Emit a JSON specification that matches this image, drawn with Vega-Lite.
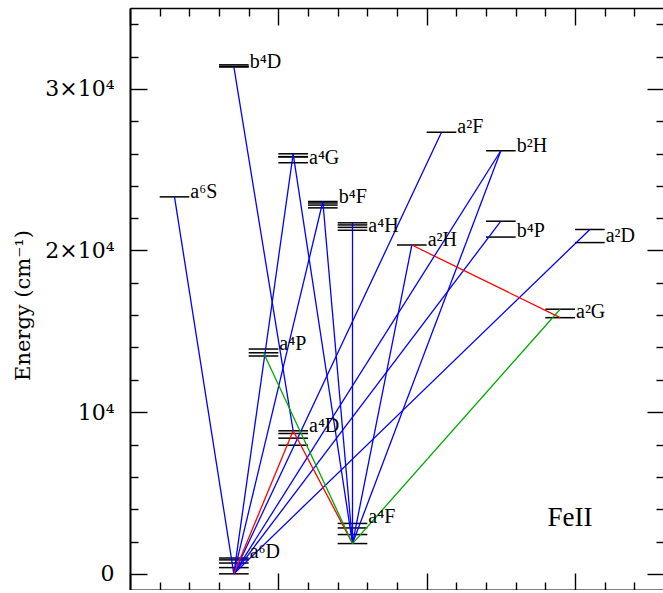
{
  "$schema": "https://vega.github.io/schema/vega-lite/v6.json",
  "width": 534,
  "height": 582,
  "autosize": {"type": "none"},
  "padding": {"left": 130, "top": 8, "right": 0, "bottom": 0},
  "background": "white",
  "config": {
    "view": {"stroke": null},
    "axis": {
      "grid": false,
      "domainColor": "black",
      "domainWidth": 2,
      "tickColor": "black",
      "tickWidth": 1.4,
      "labelFont": "DejaVu Serif",
      "labelFontSize": 22,
      "labelColor": "black",
      "labelOverlap": false,
      "labelFlush": false,
      "titleFont": "DejaVu Serif",
      "titleFontSize": 21,
      "titleFontWeight": "normal",
      "titleColor": "black"
    }
  },
  "datasets": {
    "levels": [
      {"term": "a6D", "x0": 3, "x1": 4, "energy": 0},
      {"term": "a6D", "x0": 3, "x1": 4, "energy": 384.79},
      {"term": "a6D", "x0": 3, "x1": 4, "energy": 667.68},
      {"term": "a6D", "x0": 3, "x1": 4, "energy": 862.61},
      {"term": "a6D", "x0": 3, "x1": 4, "energy": 977.05},
      {"term": "a4F", "x0": 7, "x1": 8, "energy": 1872.6},
      {"term": "a4F", "x0": 7, "x1": 8, "energy": 2430.14},
      {"term": "a4F", "x0": 7, "x1": 8, "energy": 2837.95},
      {"term": "a4F", "x0": 7, "x1": 8, "energy": 3117.46},
      {"term": "a4D", "x0": 5, "x1": 6, "energy": 7955.3},
      {"term": "a4D", "x0": 5, "x1": 6, "energy": 8391.94},
      {"term": "a4D", "x0": 5, "x1": 6, "energy": 8680.45},
      {"term": "a4D", "x0": 5, "x1": 6, "energy": 8846.76},
      {"term": "a4P", "x0": 4, "x1": 5, "energy": 13474.41},
      {"term": "a4P", "x0": 4, "x1": 5, "energy": 13673.18},
      {"term": "a4P", "x0": 4, "x1": 5, "energy": 13904.82},
      {"term": "a2G", "x0": 14, "x1": 15, "energy": 15844.65},
      {"term": "a2G", "x0": 14, "x1": 15, "energy": 16369.41},
      {"term": "a2H", "x0": 9, "x1": 10, "energy": 20340.3},
      {"term": "b4P", "x0": 12, "x1": 13, "energy": 20830.58},
      {"term": "b4P", "x0": 12, "x1": 13, "energy": 21812.05},
      {"term": "a2D", "x0": 15, "x1": 16, "energy": 20490},
      {"term": "a2D", "x0": 15, "x1": 16, "energy": 21300},
      {"term": "a4H", "x0": 7, "x1": 8, "energy": 21251.61},
      {"term": "a4H", "x0": 7, "x1": 8, "energy": 21430.36},
      {"term": "a4H", "x0": 7, "x1": 8, "energy": 21581.62},
      {"term": "a4H", "x0": 7, "x1": 8, "energy": 21711.9},
      {"term": "b4F", "x0": 6, "x1": 7, "energy": 22637.2},
      {"term": "b4F", "x0": 6, "x1": 7, "energy": 22810.36},
      {"term": "b4F", "x0": 6, "x1": 7, "energy": 22939.36},
      {"term": "b4F", "x0": 6, "x1": 7, "energy": 23031.3},
      {"term": "a6S", "x0": 1, "x1": 2, "energy": 23317.63},
      {"term": "a4G", "x0": 5, "x1": 6, "energy": 25428.78},
      {"term": "a4G", "x0": 5, "x1": 6, "energy": 25787.59},
      {"term": "a4G", "x0": 5, "x1": 6, "energy": 25805.33},
      {"term": "a4G", "x0": 5, "x1": 6, "energy": 25981.63},
      {"term": "b2H", "x0": 12, "x1": 13, "energy": 26170.18},
      {"term": "a2F", "x0": 10, "x1": 11, "energy": 27314.92},
      {"term": "b4D", "x0": 3, "x1": 4, "energy": 31364.44},
      {"term": "b4D", "x0": 3, "x1": 4, "energy": 31368.45},
      {"term": "b4D", "x0": 3, "x1": 4, "energy": 31387.95},
      {"term": "b4D", "x0": 3, "x1": 4, "energy": 31483.18}
    ],
    "transitions": [
      {"from": "a6S", "to": "a6D", "set": "I", "xu": 1.5, "eu": 23317.63, "xl": 3.5, "el": 0},
      {"from": "b4D", "to": "a4D", "set": "I", "xu": 3.5, "eu": 31368.45, "xl": 5.5, "el": 8846.76},
      {"from": "a4G", "to": "a6D", "set": "I", "xu": 5.5, "eu": 25981.63, "xl": 3.5, "el": 0},
      {"from": "a4G", "to": "a4F", "set": "I", "xu": 5.5, "eu": 25981.63, "xl": 7.5, "el": 1872.6},
      {"from": "b4F", "to": "a6D", "set": "I", "xu": 6.5, "eu": 23031.3, "xl": 3.5, "el": 0},
      {"from": "b4F", "to": "a4F", "set": "I", "xu": 6.5, "eu": 23031.3, "xl": 7.5, "el": 1872.6},
      {"from": "a4H", "to": "a4F", "set": "I", "xu": 7.5, "eu": 21711.9, "xl": 7.5, "el": 1872.6},
      {"from": "a2F", "to": "a6D", "set": "I", "xu": 10.5, "eu": 27314.92, "xl": 3.5, "el": 0},
      {"from": "a2H", "to": "a4F", "set": "I", "xu": 9.5, "eu": 20340.3, "xl": 7.5, "el": 1872.6},
      {"from": "b2H", "to": "a6D", "set": "I", "xu": 12.5, "eu": 26170.18, "xl": 3.5, "el": 0},
      {"from": "b2H", "to": "a4F", "set": "I", "xu": 12.5, "eu": 26170.18, "xl": 7.5, "el": 1872.6},
      {"from": "b4P", "to": "a6D", "set": "I", "xu": 12.5, "eu": 21812.05, "xl": 3.5, "el": 0},
      {"from": "a2D", "to": "a6D", "set": "I", "xu": 15.5, "eu": 21300, "xl": 3.5, "el": 0},
      {"from": "a4D", "to": "a6D", "set": "II", "xu": 5.5, "eu": 8846.76, "xl": 3.5, "el": 0},
      {"from": "a4D", "to": "a4F", "set": "II", "xu": 5.5, "eu": 8846.76, "xl": 7.5, "el": 1872.6},
      {"from": "a2H", "to": "a2G", "set": "II", "xu": 9.5, "eu": 20340.3, "xl": 14.5, "el": 15844.65},
      {"from": "a4P", "to": "a4F", "set": "III", "xu": 4.5, "eu": 13673.18, "xl": 7.5, "el": 1872.6},
      {"from": "a2G", "to": "a4F", "set": "III", "xu": 14.5, "eu": 16369.41, "xl": 7.5, "el": 1872.6}
    ],
    "labels": [
      {"label": "a⁶S", "x": 2, "energy": 23600},
      {"label": "b⁴D", "x": 4, "energy": 31685},
      {"label": "a⁴G", "x": 6, "energy": 25722},
      {"label": "b⁴F", "x": 7, "energy": 23315},
      {"label": "a⁴H", "x": 8, "energy": 21543},
      {"label": "a²H", "x": 10, "energy": 20679},
      {"label": "a²F", "x": 11, "energy": 27611},
      {"label": "b²H", "x": 13, "energy": 26481},
      {"label": "b⁴P", "x": 13, "energy": 21191},
      {"label": "a²D", "x": 16, "energy": 20883},
      {"label": "a²G", "x": 15, "energy": 16173},
      {"label": "a⁴P", "x": 5, "energy": 14198},
      {"label": "a⁴D", "x": 6, "energy": 9154},
      {"label": "a⁴F", "x": 8, "energy": 3519},
      {"label": "a⁶D", "x": 4, "energy": 1358}
    ],
    "ion": [
      {"name": "FeII", "x": 14.07, "energy": 2960}
    ]
  },
  "layer": [
    {
      "data": {"name": "levels"},
      "mark": {"type": "rule", "color": "black", "strokeWidth": 1.5},
      "encoding": {
        "x": {
          "field": "x0", "type": "quantitative",
          "scale": {"domain": [0, 18], "nice": false, "zero": false},
          "axis": {
            "orient": "bottom",
            "values": [0, 1, 2, 3, 4, 5, 6, 7, 8, 9, 10, 11, 12, 13, 14, 15, 16, 17],
            "tickSize": {"condition": {"test": "datum.value % 5 === 0", "value": -17}, "value": -8},
            "labels": false,
            "title": null,
            "domainWidth": 2
          }
        },
        "x2": {"field": "x1"},
        "y": {
          "field": "energy", "type": "quantitative",
          "scale": {"domain": [-1000, 35000], "nice": false, "zero": false},
          "axis": {
            "orient": "left",
            "values": [0, 2000, 4000, 6000, 8000, 10000, 12000, 14000, 16000, 18000, 20000, 22000, 24000, 26000, 28000, 30000, 32000, 34000],
            "tickSize": {"condition": {"test": "datum.value % 10000 === 0", "value": -17}, "value": -8},
            "labelExpr": "datum.value === 0 ? '0' : datum.value === 10000 ? '10⁴' : datum.value === 20000 ? '2×10⁴' : datum.value === 30000 ? '3×10⁴' : ''",
            "labelPadding": 33,
            "labelAlign": "right",
            "labelBaseline": "middle",
            "title": "Energy (cm⁻¹)",
            "titleAngle": 270,
            "titleAlign": "center",
            "titleBaseline": "alphabetic",
            "titleX": -101,
            "titleY": 297,
            "domainWidth": 2
          }
        }
      }
    },
    {
      "data": {"name": "transitions"},
      "mark": {"type": "rule", "strokeWidth": 1.3},
      "encoding": {
        "x": {
          "field": "xu", "type": "quantitative",
          "scale": {"domain": [0, 18], "nice": false, "zero": false},
          "axis": {
            "orient": "top",
            "values": [0, 1, 2, 3, 4, 5, 6, 7, 8, 9, 10, 11, 12, 13, 14, 15, 16, 17],
            "tickSize": {"condition": {"test": "datum.value % 5 === 0", "value": -17}, "value": -8},
            "labels": false,
            "title": null,
            "domainWidth": 1.4
          }
        },
        "x2": {"field": "xl"},
        "y": {
          "field": "eu", "type": "quantitative",
          "scale": {"domain": [-1000, 35000], "nice": false, "zero": false},
          "axis": {
            "orient": "right",
            "values": [0, 2000, 4000, 6000, 8000, 10000, 12000, 14000, 16000, 18000, 20000, 22000, 24000, 26000, 28000, 30000, 32000, 34000],
            "tickSize": {"condition": {"test": "datum.value % 10000 === 0", "value": -17}, "value": -8},
            "labels": false,
            "title": null,
            "domainWidth": 1.4
          }
        },
        "y2": {"field": "el"},
        "color": {
          "field": "set", "type": "nominal",
          "scale": {"domain": ["I", "II", "III"], "range": ["#0000ff", "#ff0000", "#00aa00"]},
          "legend": null
        }
      }
    },
    {
      "data": {"name": "labels"},
      "mark": {"type": "text", "align": "left", "baseline": "middle", "dx": 1, "font": "Liberation Serif", "fontSize": 20, "color": "black"},
      "encoding": {
        "x": {"field": "x", "type": "quantitative", "scale": {"domain": [0, 18], "nice": false, "zero": false}, "axis": null},
        "y": {"field": "energy", "type": "quantitative", "scale": {"domain": [-1000, 35000], "nice": false, "zero": false}, "axis": null},
        "text": {"field": "label"}
      }
    },
    {
      "data": {"name": "ion"},
      "mark": {"type": "text", "align": "left", "baseline": "alphabetic", "font": "Liberation Serif", "fontSize": 27, "color": "black"},
      "encoding": {
        "x": {"field": "x", "type": "quantitative", "scale": {"domain": [0, 18], "nice": false, "zero": false}, "axis": null},
        "y": {"field": "energy", "type": "quantitative", "scale": {"domain": [-1000, 35000], "nice": false, "zero": false}, "axis": null},
        "text": {"field": "name"}
      }
    }
  ],
  "resolve": {"axis": {"x": "independent", "y": "independent"}}
}
